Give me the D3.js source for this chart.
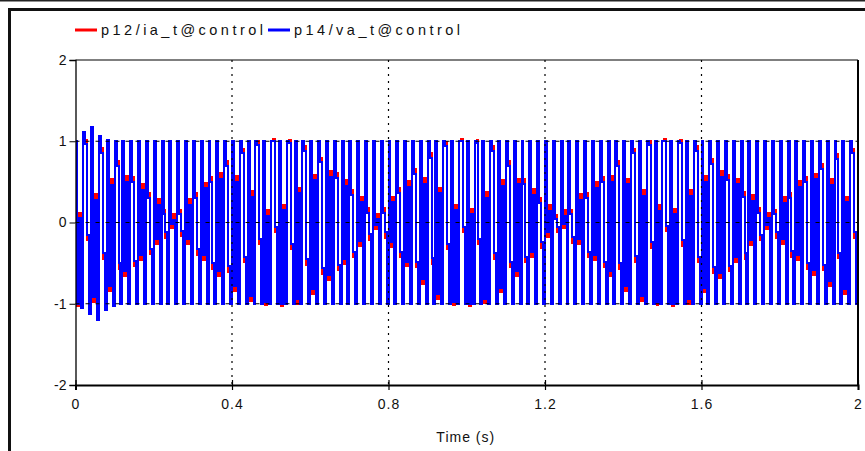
<!DOCTYPE html>
<html>
<head>
<meta charset="utf-8">
<script src="https://cdn.jsdelivr.net/npm/d3@7"></script>
<style>
  html, body { margin: 0; padding: 0; background: #fff; }
  svg { display: block; }
  text { font-family: "Liberation Sans", Arial, sans-serif; fill: #111; }
</style>
</head>
<body>
<svg id="chart" width="865" height="451"></svg>
<script>
// one entry per 50 Hz cycle (0.02 s); each cycle is plotted as peak, swing, lens, trough
const cycleLength = 0.02;
const seriesNames = ["p12/ia_t@control", "p14/va_t@control"];
const xTicks = [0, 0.4, 0.8, 1.2, 1.6, 2];
const yTicks = [-2, -1, 0, 1, 2];
const xGrid = [0.4, 0.8, 1.2, 1.6];
const yGrid = [-1, 0, 1];

// p14/va_t@control (blue)
const vaPeak = [
  1.0, 1.12, 1.17, 1.06, 1.02, 1, 1, 1, 1, 1, 1, 1, 1, 1, 1, 1, 1, 1, 1, 1,
  1, 1, 1, 1, 1, 1, 1, 1, 1, 1, 1, 1, 1, 1, 1, 1, 1, 1, 1, 1,
  1, 1, 1, 1, 1, 1, 1, 1, 1, 1, 1, 1, 1, 1, 1, 1, 1, 1, 1, 1,
  1, 1, 1, 1, 1, 1, 1, 1, 1, 1, 1, 1, 1, 1, 1, 1, 1, 1, 1, 1,
  1, 1, 1, 1, 1, 1, 1, 1, 1, 1, 1, 1, 1, 1, 1, 1, 1, 1, 1, 1
];
const vaSwing = [
  -1.0, 0.97, -0.92, 0.86, -0.78, 0.7, -0.6, 0.5, -0.4, 0.3, -0.2, 0.1, -0.02,
  0.1, -0.2, 0.3, -0.4, 0.5, -0.6, 0.7, -0.78, 0.85, -0.9, 0.95, -0.98, 1.0,
  -1.0, 0.98, -0.94, 0.88, -0.82, 0.74, -0.65, 0.55, -0.45, 0.34, -0.23, 0.12, -0.03,
  0.12, -0.24, 0.36, -0.48, 0.6, -0.7, 0.8, -0.88, 0.94, -0.98, 1.0, -1.0,
  0.98, -0.94, 0.88, -0.8, 0.7, -0.6, 0.48, -0.36, 0.24, -0.12, 0.04, -0.02,
  0.1, -0.2, 0.3, -0.4, 0.5, -0.6, 0.7, -0.78, 0.85, -0.9, 0.95, -0.98, 1.0,
  -1.0, 0.98, -0.94, 0.88, -0.8, 0.72, -0.62, 0.52, -0.42, 0.32, -0.22, 0.12, -0.03,
  0.1, -0.2, 0.3, -0.4, 0.5, -0.58, 0.66, -0.72, 0.78, -0.82, 0.85
];
const vaLens = [
  0.05, -0.15, 0.28, -0.38, 0.46, -0.5, 0.5, -0.47, 0.4, -0.32, 0.22, -0.12, 0.03,
  -0.1, 0.22, -0.33, 0.42, -0.5, 0.54, -0.54, 0.5, -0.42, 0.32, -0.2, 0.08,
  -0.05, 0.15, -0.26, 0.36, -0.45, 0.52, -0.56, 0.56, -0.52, 0.45, -0.36, 0.25, -0.14, 0.04,
  -0.12, 0.25, -0.36, 0.44, -0.48, 0.48, -0.44, 0.36, -0.26, 0.15, -0.05,
  0.1, -0.2, 0.3, -0.38, 0.45, -0.48, 0.47, -0.42, 0.34, -0.24, 0.14, -0.05,
  0.08, -0.18, 0.28, -0.36, 0.43, -0.48, 0.5, -0.5, 0.47, -0.41, 0.33, -0.24, 0.14, -0.04,
  0.1, -0.22, 0.33, -0.42, 0.5, -0.55, 0.56, -0.53, 0.47, -0.38, 0.27, -0.15, 0.05,
  -0.12, 0.24, -0.35, 0.44, -0.5, 0.53, -0.52, 0.46, -0.37, 0.25, -0.12
];
const vaTrough = [
  -1.05, -1.12, -1.2, -1.08, -1.03, -1, -1, -1, -1, -1, -1, -1, -1, -1, -1, -1, -1, -1, -1, -1,
  -1, -1, -1, -1, -1, -1, -1, -1, -1, -1, -1, -1, -1, -1, -1, -1, -1, -1, -1, -1,
  -1, -1, -1, -1, -1, -1, -1, -1, -1, -1, -1, -1, -1, -1, -1, -1, -1, -1, -1, -1,
  -1, -1, -1, -1, -1, -1, -1, -1, -1, -1, -1, -1, -1, -1, -1, -1, -1, -1, -1, -1,
  -1, -1, -1, -1, -1, -1, -1, -1, -1, -1, -1, -1, -1, -1, -1, -1, -1, -1, -1, -1
];

// p12/ia_t@control (red), mostly hidden behind the blue trace
const iaPeak = [
  1.0, 1.05, 1.1, 1.03, 1.0, 1, 1, 1, 1, 1, 1, 1, 1, 1, 1, 1, 1, 1, 1, 1,
  1, 1, 1, 1, 1, 1, 1, 1, 1, 1, 1, 1, 1, 1, 1, 1, 1, 1, 1, 1,
  1, 1, 1, 1, 1, 1, 1, 1, 1, 1, 1, 1, 1, 1, 1, 1, 1, 1, 1, 1,
  1, 1, 1, 1, 1, 1, 1, 1, 1, 1, 1, 1, 1, 1, 1, 1, 1, 1, 1, 1,
  1, 1, 1, 1, 1, 1, 1, 1, 1, 1, 1, 1, 1, 1, 1, 1, 1, 1, 1, 1
];
const iaSwing = [
  -1.03, 1.02, -0.98, 0.92, -0.84, 0.76, -0.66, 0.56, -0.46, 0.36, -0.26, 0.16, -0.07,
  0.15, -0.26, 0.36, -0.46, 0.56, -0.66, 0.76, -0.84, 0.91, -0.96, 1.0, -1.02, 1.03,
  -1.03, 1.02, -1.0, 0.94, -0.88, 0.8, -0.71, 0.61, -0.51, 0.4, -0.29, 0.18, -0.08,
  0.18, -0.3, 0.42, -0.54, 0.66, -0.76, 0.86, -0.94, 0.99, -1.02, 1.03, -1.03,
  1.02, -0.99, 0.94, -0.86, 0.76, -0.66, 0.54, -0.42, 0.3, -0.18, 0.09, -0.07,
  0.16, -0.26, 0.36, -0.46, 0.56, -0.66, 0.76, -0.84, 0.91, -0.96, 1.0, -1.02, 1.03,
  -1.03, 1.02, -1.0, 0.94, -0.86, 0.78, -0.68, 0.58, -0.48, 0.38, -0.28, 0.18, -0.08,
  0.16, -0.26, 0.36, -0.46, 0.56, -0.64, 0.72, -0.78, 0.84, -0.88, 0.9
];
const iaLens = [
  0.12, -0.22, 0.35, -0.45, 0.53, -0.57, 0.57, -0.54, 0.47, -0.39, 0.29, -0.19, 0.1,
  -0.17, 0.29, -0.4, 0.49, -0.57, 0.61, -0.61, 0.57, -0.49, 0.39, -0.27, 0.15,
  -0.12, 0.22, -0.33, 0.43, -0.52, 0.59, -0.63, 0.63, -0.59, 0.52, -0.43, 0.32, -0.21, 0.11,
  -0.19, 0.32, -0.43, 0.51, -0.55, 0.55, -0.51, 0.43, -0.33, 0.22, -0.12,
  0.17, -0.27, 0.37, -0.45, 0.52, -0.55, 0.54, -0.49, 0.41, -0.31, 0.21, -0.12,
  0.15, -0.25, 0.35, -0.43, 0.5, -0.55, 0.57, -0.57, 0.54, -0.48, 0.4, -0.31, 0.21, -0.11,
  0.17, -0.29, 0.4, -0.49, 0.57, -0.62, 0.63, -0.6, 0.54, -0.45, 0.34, -0.22, 0.12,
  -0.19, 0.31, -0.42, 0.51, -0.57, 0.6, -0.59, 0.53, -0.44, 0.32, -0.19
];
const iaTrough = [
  -1.02, -1.06, -1.1, -1.04, -1.0, -1, -1, -1, -1, -1, -1, -1, -1, -1, -1, -1, -1, -1, -1, -1,
  -1, -1, -1, -1, -1, -1, -1, -1, -1, -1, -1, -1, -1, -1, -1, -1, -1, -1, -1, -1,
  -1, -1, -1, -1, -1, -1, -1, -1, -1, -1, -1, -1, -1, -1, -1, -1, -1, -1, -1, -1,
  -1, -1, -1, -1, -1, -1, -1, -1, -1, -1, -1, -1, -1, -1, -1, -1, -1, -1, -1, -1,
  -1, -1, -1, -1, -1, -1, -1, -1, -1, -1, -1, -1, -1, -1, -1, -1, -1, -1, -1, -1
];

const svg = d3.select('#chart');
const plotLeft = 75.5, plotRight = 858, plotTop = 60, plotBottom = 385;

const x = d3.scaleLinear().domain([0, 2]).range([plotLeft, plotRight]);
const y = d3.scaleLinear().domain([-2, 2]).range([plotBottom, plotTop]);

// outer window frame
svg.append('line').attr('x1', 0).attr('x2', 865).attr('y1', 0.8).attr('y2', 0.8)
  .attr('stroke', '#222').attr('stroke-width', 1.6);
svg.append('path').attr('d', 'M865,9.5H9.5V451')
  .attr('fill', 'none').attr('stroke', '#111').attr('stroke-width', 3);

// legend
const legendColors = ['#ff0000', '#0000ff'];
const legendX = [75, 268];
const legendText = [[101, 162], [294, 166]];
seriesNames.forEach((name, i) => {
  svg.append('line')
    .attr('x1', legendX[i]).attr('x2', legendX[i] + 22)
    .attr('y1', 30).attr('y2', 30)
    .attr('stroke', legendColors[i]).attr('stroke-width', 3);
  svg.append('text')
    .attr('x', legendText[i][0]).attr('y', 35)
    .attr('font-size', 14.5)
    .attr('textLength', legendText[i][1]).attr('lengthAdjust', 'spacing')
    .text(name);
});

function buildPoints(peak, swing, lens, trough) {
  const pts = [];
  peak.forEach((p, k) => {
    const t0 = k * cycleLength;
    [p, swing[k], lens[k], trough[k]].forEach((v, j) => {
      pts.push([t0 + j * cycleLength / 4, v]);
    });
  });
  pts.push([2, trough[trough.length - 1]]);
  return pts;
}

svg.append('clipPath').attr('id', 'plotClip')
  .append('rect').attr('x', plotLeft).attr('y', plotTop - 2)
  .attr('width', plotRight - plotLeft).attr('height', plotBottom - plotTop + 4);

const line = d3.line()
  .x(d => x(d[0]))
  .y(d => y(d[1]))
  .curve(d3.curveStepAfter);

const plot = svg.append('g').attr('clip-path', 'url(#plotClip)');

plot.append('path')
  .datum(buildPoints(iaPeak, iaSwing, iaLens, iaTrough))
  .attr('fill', 'none')
  .attr('stroke', '#ff0000')
  .attr('stroke-width', 2)
  .attr('shape-rendering', 'crispEdges')
  .attr('d', line);

plot.append('path')
  .datum(buildPoints(vaPeak, vaSwing, vaLens, vaTrough))
  .attr('fill', 'none')
  .attr('stroke', '#0000ff')
  .attr('stroke-width', 2)
  .attr('shape-rendering', 'crispEdges')
  .attr('d', line);

// dotted grid drawn over the traces
svg.append('g').selectAll('line').data(xGrid).enter().append('line')
  .attr('x1', d => x(d)).attr('x2', d => x(d))
  .attr('y1', plotTop).attr('y2', plotBottom)
  .attr('stroke', '#000').attr('stroke-width', 1.2)
  .attr('stroke-dasharray', '2,5');

svg.append('g').selectAll('line').data(yGrid).enter().append('line')
  .attr('x1', plotLeft).attr('x2', plotRight)
  .attr('y1', d => y(d)).attr('y2', d => y(d))
  .attr('stroke', '#000').attr('stroke-width', 1.2)
  .attr('stroke-dasharray', '4,6');

// plot frame
svg.append('line').attr('x1', plotLeft).attr('x2', plotRight).attr('y1', plotTop).attr('y2', plotTop)
  .attr('stroke', '#000').attr('stroke-width', 1.2);
svg.append('line').attr('x1', plotRight).attr('x2', plotRight).attr('y1', plotTop).attr('y2', plotBottom)
  .attr('stroke', '#000').attr('stroke-width', 2);

// axes
const yAxis = svg.append('g')
  .attr('transform', 'translate(' + plotLeft + ',0)')
  .call(d3.axisLeft(y).tickValues(yTicks).tickSize(6).tickPadding(3)
    .tickFormat(d => String(d)));
yAxis.select('.domain').attr('stroke-width', 1.3);
yAxis.selectAll('text').attr('font-size', 14).attr('font-family', '"Liberation Sans", Arial, sans-serif');

const xAxis = svg.append('g')
  .attr('transform', 'translate(0,' + plotBottom + ')')
  .call(d3.axisBottom(x).tickValues(xTicks).tickSize(5).tickPadding(9)
    .tickFormat(d3.format('~g')));
xAxis.select('.domain').attr('stroke-width', 2);
xAxis.selectAll('.tick line').attr('y1', -5).attr('y2', 5).attr('stroke-width', 1.2);
xAxis.selectAll('text').attr('font-size', 14).attr('letter-spacing', 1)
  .attr('font-family', '"Liberation Sans", Arial, sans-serif');

svg.append('text')
  .attr('x', (plotLeft + plotRight) / 2 - 1).attr('y', 442)
  .attr('text-anchor', 'middle')
  .attr('font-size', 14)
  .attr('letter-spacing', 1)
  .text('Time (s)');
</script>
</body>
</html>
